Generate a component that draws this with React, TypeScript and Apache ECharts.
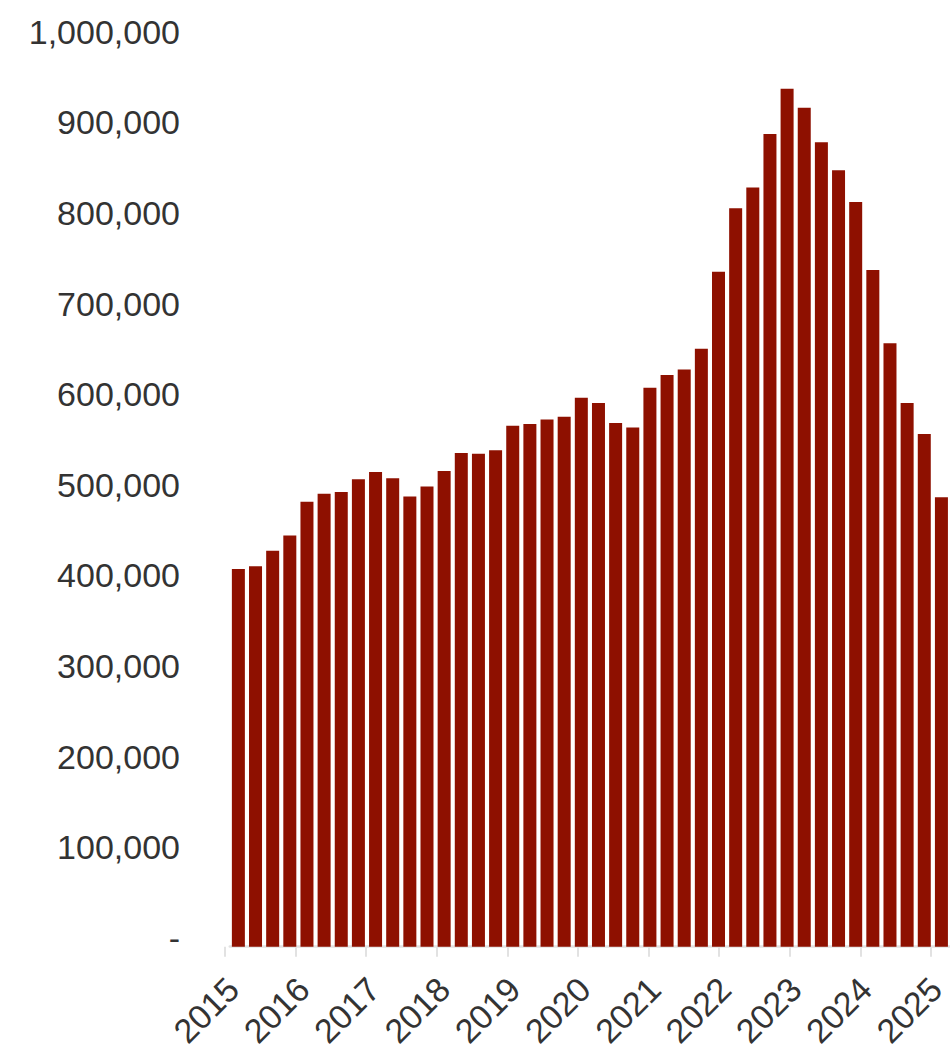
import React, { useEffect, useRef } from "react";
import * as echarts from "echarts";

const quarters: string[] = [
  "2015 Q1", "2015 Q2", "2015 Q3", "2015 Q4",
  "2016 Q1", "2016 Q2", "2016 Q3", "2016 Q4",
  "2017 Q1", "2017 Q2", "2017 Q3", "2017 Q4",
  "2018 Q1", "2018 Q2", "2018 Q3", "2018 Q4",
  "2019 Q1", "2019 Q2", "2019 Q3", "2019 Q4",
  "2020 Q1", "2020 Q2", "2020 Q3", "2020 Q4",
  "2021 Q1", "2021 Q2", "2021 Q3", "2021 Q4",
  "2022 Q1", "2022 Q2", "2022 Q3", "2022 Q4",
  "2023 Q1", "2023 Q2", "2023 Q3", "2023 Q4",
  "2024 Q1", "2024 Q2", "2024 Q3", "2024 Q4",
  "2025 Q1", "2025 Q2",
];

const values: number[] = [
  417000, 420000, 437000, 454000,
  491000, 500000, 502000, 516000,
  524000, 517000, 497000, 508000,
  525000, 545000, 544000, 548000,
  575000, 577000, 582000, 585000,
  606000, 600000, 578000, 573000,
  617000, 631000, 637000, 660000,
  745000, 815000, 838000, 897000,
  947000, 926000, 888000, 857000,
  822000, 747000, 666000, 600000,
  566000, 496000,
];

const yearLabels: string[] = [
  "2015", "2016", "2017", "2018", "2019", "2020",
  "2021", "2022", "2023", "2024", "2025",
];

const yTicks = { min: 0, max: 1000000, interval: 100000 };

const FONT = "'Liberation Sans', Arial, sans-serif";

export default function App() {
  const ref = useRef<HTMLDivElement>(null);

  useEffect(() => {
    if (!ref.current) return;
    const chart = echarts.init(ref.current, null, { renderer: "svg" });
    const gridTop = 40.7;
    const gridHeight = 906;
    const yLabelShiftUp = 9;
    const xLabelShiftRight = 8;
    chart.setOption({
      animation: false,
      backgroundColor: "#ffffff",
      grid: [
        // bars
        { left: 229.8, top: gridTop, width: 732.5, height: gridHeight },
        // year ticks
        { left: 225, top: gridTop, width: 706, height: gridHeight },
        // y labels
        { left: 229.8, top: gridTop - yLabelShiftUp, width: 706, height: gridHeight },
        // x labels
        { left: 225 + xLabelShiftRight, top: gridTop, width: 706, height: gridHeight },
      ],
      xAxis: [
        {
          type: "category",
          gridIndex: 0,
          data: quarters,
          axisLine: { show: true, lineStyle: { color: "#e2e2e2", width: 2.5 } },
          axisTick: { show: false },
          axisLabel: { show: false },
          splitLine: { show: false },
        },
        {
          type: "category",
          gridIndex: 1,
          data: yearLabels,
          boundaryGap: false,
          axisLine: { show: false },
          axisTick: {
            show: true,
            alignWithLabel: true,
            length: 10,
            lineStyle: { color: "#e2e2e2", width: 2 },
          },
          axisLabel: { show: false },
          splitLine: { show: false },
        },
        {
          type: "category",
          gridIndex: 2,
          data: yearLabels,
          show: false,
        },
        {
          type: "category",
          gridIndex: 3,
          data: yearLabels,
          boundaryGap: false,
          axisLine: { show: false },
          axisTick: { show: false },
          axisLabel: {
            show: true,
            interval: 0,
            rotate: 45,
            margin: 37,
            fontSize: 34,
            color: "#333333",
            fontFamily: FONT,
          },
          splitLine: { show: false },
        },
      ],
      yAxis: [
        {
          type: "value",
          gridIndex: 0,
          min: yTicks.min,
          max: yTicks.max,
          interval: yTicks.interval,
          axisLine: { show: false },
          axisTick: { show: false },
          splitLine: { show: false },
          axisLabel: { show: false },
        },
        {
          type: "value",
          gridIndex: 1,
          min: 0,
          max: 1,
          show: false,
        },
        {
          type: "value",
          gridIndex: 2,
          min: yTicks.min,
          max: yTicks.max,
          interval: yTicks.interval,
          axisLine: { show: false },
          axisTick: { show: false },
          splitLine: { show: false },
          axisLabel: {
            margin: 49.8,
            fontSize: 34,
            color: "#333333",
            fontFamily: FONT,
            formatter: (v: number) =>
              v === 0 ? "-" : v.toLocaleString("en-US"),
          },
        },
        {
          type: "value",
          gridIndex: 3,
          min: 0,
          max: 1,
          show: false,
        },
      ],
      series: [
        {
          type: "bar",
          xAxisIndex: 0,
          yAxisIndex: 0,
          data: values,
          barWidth: 13,
          itemStyle: { color: "#8e1000" },
        },
      ],
    });
    return () => chart.dispose();
  }, []);

  return (
    <div
      ref={ref}
      style={{ position: "absolute", left: 0, top: 0, width: 950, height: 1051 }}
    />
  );
}
